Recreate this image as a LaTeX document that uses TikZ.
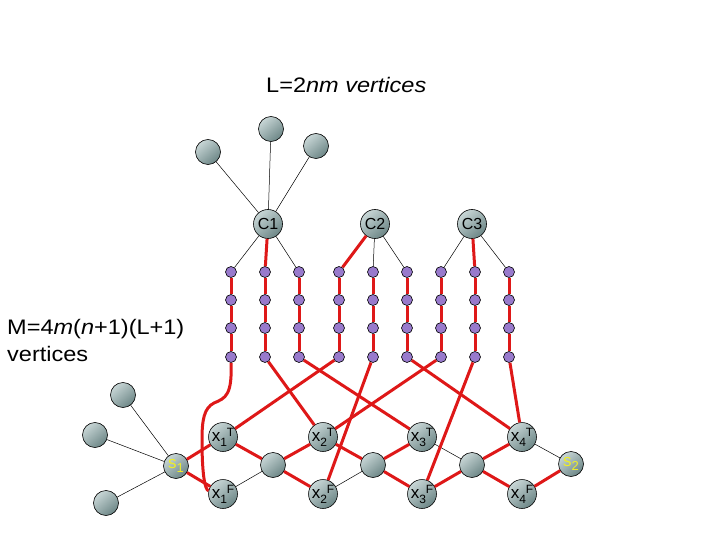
\documentclass[tikz,border=0pt]{standalone}
\usepackage{fontspec}
\setmainfont{Liberation Sans}
\newfontfamily\capfont[FakeStretch=1.12]{Liberation Sans}
\definecolor{nodelight}{RGB}{200,214,214}
\definecolor{nodedark}{RGB}{108,134,134}
\definecolor{dotpurple}{RGB}{152,122,204}
\definecolor{wirered}{RGB}{222,24,24}
\definecolor{labelyellow}{RGB}{238,238,40}
\newcommand{\xlit}[2]{\fontsize{17}{17}\selectfont x\fontsize{12}{12}\selectfont
  \raisebox{-5pt}{#1}\raisebox{5pt}{#2}}
\newcommand{\slit}[1]{\color{labelyellow}\fontsize{17}{17}\selectfont
  s\fontsize{13}{13}\selectfont\raisebox{-4pt}{#1}}

\begin{document}
\begin{tikzpicture}[x=1pt, y=-1pt,
  vertex/.style={circle, draw=black, line width=0.6pt, inner sep=0pt,
    minimum size=25pt, top color=nodelight, bottom color=nodedark,
    shading angle=40},
  clause/.style={vertex, minimum size=29pt, font=\fontsize{16}{16}\selectfont},
  pathdot/.style={circle, draw=black, line width=0.6pt, inner sep=0pt,
    minimum size=11pt, fill=dotpurple},
  redwire/.style={draw=wirered, line width=3pt},
  blackwire/.style={draw=black, line width=0.5pt},
  bigtext/.style={inner sep=0pt, font=\capfont\fontsize{21}{27}\selectfont}]
  \useasboundingbox (0,0) rectangle (720,540);

  \node[bigtext, anchor=base west] (lcount) at (266,93) {L=2\textit{nm vertices}};
  \node[bigtext, anchor=north west, align=left] (mcount) at (7,319)
    {M=4\textit{m}(\textit{n}+1)(L+1)\\vertices};

  % clauses
  \node[vertex] (t1) at (208,152) {};
  \node[vertex] (t2) at (271,129) {};
  \node[vertex] (t3) at (316,146) {};
  \node[clause] (c1) at (268,224) {C1};
  \node[clause] (c2) at (375,224) {C2};
  \node[clause] (c3) at (472,224) {C3};
  \draw[blackwire] (c1) -- (t1);
  \draw[blackwire] (c1) -- (t2);
  \draw[blackwire] (c1) -- (t3);

  % paths of length L
  \foreach \i/\x in {1/231,2/265,3/299,4/339,5/373,6/407,7/441,8/475,9/509}
    \foreach \j/\y in {1/272,2/300,3/328,4/357}
      \node[pathdot] (d\i-\j) at (\x,\y) {};
  \foreach \i in {1,...,9}
    \draw[redwire] (d\i-1) -- (d\i-2) -- (d\i-3) -- (d\i-4);

  \draw[blackwire] (c1) -- (d1-1);
  \draw[redwire] (c1) -- (d2-1);
  \draw[blackwire] (c1) -- (d3-1);
  \draw[redwire] (c2) -- (d4-1);
  \draw[blackwire] (c2) -- (d5-1);
  \draw[blackwire] (c2) -- (d6-1);
  \draw[blackwire] (c3) -- (d7-1);
  \draw[redwire] (c3) -- (d8-1);
  \draw[blackwire] (c3) -- (d9-1);

  % variables
  \node[vertex] (s1) at (176,466) {\slit{1}};
  \node[vertex] (m1) at (273,465) {};
  \node[vertex] (m2) at (373,465) {};
  \node[vertex] (m3) at (472,465) {};
  \node[vertex] (s2) at (571,464) {\slit{2}};
  \foreach \k/\x in {1/223,2/323,3/422,4/522} {
    \node[vertex] (x\k t) at (\x,437) {\xlit{\k}{T}};
    \node[vertex] (x\k f) at (\x,494) {\xlit{\k}{F}};
  }
  \node[vertex] (l1) at (123,395) {};
  \node[vertex] (l2) at (95,435) {};
  \node[vertex] (l3) at (106,503) {};
  \draw[blackwire] (s1) -- (l1);
  \draw[blackwire] (s1) -- (l2);
  \draw[blackwire] (s1) -- (l3);

  \draw[redwire] (s1) -- (x1t) -- (m1) -- (x2t) -- (m2) -- (x3t);
  \draw[blackwire] (x3t) -- (m3);
  \draw[redwire] (m3) -- (x4t);
  \draw[blackwire] (x4t) -- (s2);
  \draw[redwire] (s1) -- (x1f);
  \draw[blackwire] (x1f) -- (m1);
  \draw[redwire] (m1) -- (x2f);
  \draw[blackwire] (x2f) -- (m2);
  \draw[redwire] (m2) -- (x3f) -- (m3) -- (x4f) -- (s2);

  % literals
  \draw[redwire] (d1-4) .. controls (232,395) and (226,398) .. (214,403)
    .. controls (204,408) and (202,420) .. (202,440)
    .. controls (202,475) and (205,490) .. (x1f);
  \draw[redwire] (d2-4) -- (x2t);
  \draw[redwire] (d3-4) -- (x3t);
  \draw[redwire] (d4-4) -- (x1t);
  \draw[redwire] (d5-4) -- (x2f);
  \draw[redwire] (d6-4) -- (x4t);
  \draw[redwire] (d7-4) -- (x2t);
  \draw[redwire] (d8-4) -- (x3f);
  \draw[redwire] (d9-4) -- (x4t);
\end{tikzpicture}
\end{document}
